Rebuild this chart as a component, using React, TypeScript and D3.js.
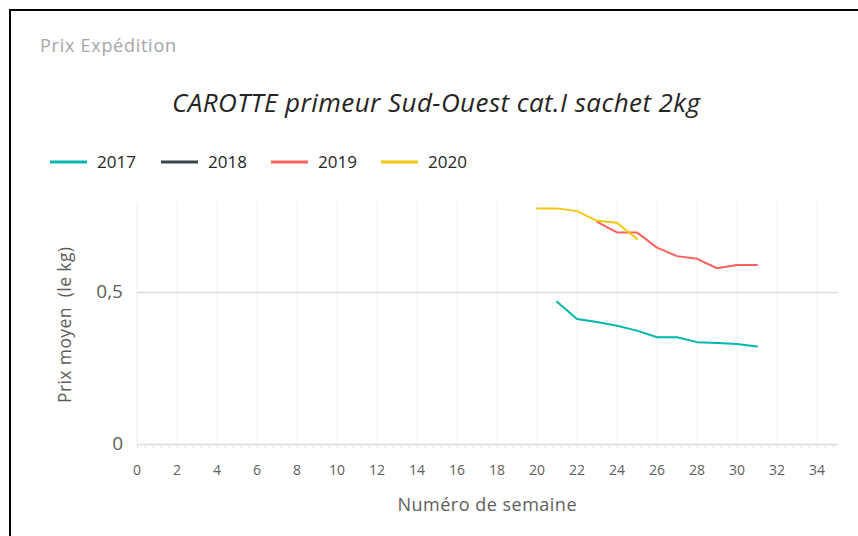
import * as d3 from "d3";
import { useRef, useEffect } from "react";

const years = ["2017", "2018", "2019", "2020"];
const colors = ["#01B8AA", "#374649", "#FD625E", "#F2C80F"];

const weeks2017 = [21, 22, 23, 24, 25, 26, 27, 28, 29, 30, 31];
const prix2017 = [0.468, 0.411, 0.401, 0.389, 0.373, 0.351, 0.351, 0.335, 0.332, 0.329, 0.321];

const weeks2019 = [23, 24, 25, 26, 27, 28, 29, 30, 31];
const prix2019 = [0.731, 0.696, 0.696, 0.646, 0.618, 0.609, 0.578, 0.589, 0.589];

const weeks2020 = [20, 21, 22, 23, 24, 25];
const prix2020 = [0.775, 0.775, 0.766, 0.734, 0.728, 0.674];

const xTicks = d3.range(0, 35, 2);
const yTicks = [0, 0.5];

const font = "'Open Sans', 'Noto Sans', sans-serif";

const App = () => {
  const container = useRef<SVGSVGElement | null>(null);

  useEffect(() => {
    drawChart();
  });

  const drawChart = () => {
    const svg = d3.select(container.current);
    svg.selectAll("*").remove();

    const m = { l: 137, r: 837, t: 202, b: 444 };

    const xScale = d3.scaleLinear().domain([0, 35]).range([m.l, m.r]);
    const yScale = d3.scaleLinear().domain([0, 0.796]).range([m.b, m.t]);

    // frame
    svg
      .append("path")
      .attr("d", "M10,540 L10,10 L860,10")
      .attr("fill", "none")
      .attr("stroke", "#000")
      .attr("stroke-width", 2);

    svg
      .append("text")
      .attr("x", 40)
      .attr("y", 52)
      .attr("textLength", 136)
      .text("Prix Expédition")
      .style("font-family", font)
      .style("font-size", "18px")
      .style("fill", "#a6a6a6");

    svg
      .append("text")
      .attr("x", 172)
      .attr("y", 112)
      .attr("textLength", 528)
      .text("CAROTTE primeur Sud-Ouest cat.I sachet 2kg")
      .style("font-family", font)
      .style("font-style", "italic")
      .style("font-size", "26px")
      .style("fill", "#252423");

    // legend
    const legendX = [50, 161, 271, 381];
    const legend = svg
      .selectAll(".legend")
      .data(years)
      .join("g")
      .attr("class", "legend")
      .attr("transform", (d, i) => `translate(${legendX[i]},162)`);
    legend
      .append("line")
      .attr("x1", 0)
      .attr("x2", 37)
      .attr("stroke", (d, i) => colors[i])
      .attr("stroke-width", 3);
    legend
      .append("text")
      .attr("x", 47)
      .attr("y", 6)
      .text((d) => d)
      .style("font-family", font)
      .style("font-size", "17px")
      .style("fill", "#252423");

    // gridlines
    svg
      .selectAll(".vgrid")
      .data(xTicks.filter((d) => d > 0))
      .join("line")
      .attr("class", "vgrid")
      .attr("x1", (d) => xScale(d))
      .attr("x2", (d) => xScale(d))
      .attr("y1", m.t)
      .attr("y2", m.b)
      .attr("stroke", "#f0f0f0")
      .attr("stroke-width", 1);

    svg
      .append("line")
      .attr("x1", m.l)
      .attr("x2", m.l)
      .attr("y1", m.t)
      .attr("y2", m.b)
      .attr("stroke", "#ececec");

    svg
      .selectAll(".hgrid")
      .data(yTicks)
      .join("line")
      .attr("class", "hgrid")
      .attr("x1", m.l)
      .attr("x2", m.r + 1)
      .attr("y1", (d) => yScale(d) + 0.5)
      .attr("y2", (d) => yScale(d) + 0.5)
      .attr("stroke", "#dcdcdc")
      .attr("stroke-width", 1.5);

    // minor ticks
    svg
      .selectAll(".minor")
      .data(d3.range(0, 35, 0.4))
      .join("line")
      .attr("class", "minor")
      .attr("x1", (d) => xScale(d) + 0.5)
      .attr("x2", (d) => xScale(d) + 0.5)
      .attr("y1", m.b)
      .attr("y2", m.b + 4)
      .attr("stroke", "#dcdcdc");

    // tick labels
    svg
      .selectAll(".xlab")
      .data(xTicks)
      .join("text")
      .attr("class", "xlab")
      .attr("x", (d) => xScale(d))
      .attr("y", 475)
      .attr("text-anchor", "middle")
      .text((d) => d)
      .style("font-family", font)
      .style("font-size", "14px")
      .style("fill", "#605E5C");

    svg
      .selectAll(".ylab")
      .data(yTicks)
      .join("text")
      .attr("class", "ylab")
      .attr("x", 123)
      .attr("y", (d) => yScale(d) + 6)
      .attr("text-anchor", "end")
      .text((d) => (d === 0 ? "0" : d3.format(".1f")(d).replace(".", ",")))
      .style("font-family", font)
      .style("font-size", "19px")
      .style("fill", "#605E5C");

    svg
      .append("text")
      .attr("transform", "translate(71,325) rotate(-90)")
      .attr("text-anchor", "middle")
      .attr("textLength", 156)
      .text("Prix moyen  (le kg)")
      .style("font-family", font)
      .style("font-size", "17.5px")
      .style("white-space", "pre")
      .style("fill", "#605E5C");

    svg
      .append("text")
      .attr("x", 487)
      .attr("y", 511)
      .attr("text-anchor", "middle")
      .attr("textLength", 179)
      .text("Numéro de semaine")
      .style("font-family", font)
      .style("font-size", "18px")
      .style("fill", "#605E5C");

    // lines
    const series = [
      { weeks: weeks2017, vals: prix2017, color: colors[0] },
      { weeks: weeks2019, vals: prix2019, color: colors[2] },
      { weeks: weeks2020, vals: prix2020, color: colors[3] },
    ];

    const line = d3
      .line<[number, number]>()
      .x((d) => xScale(d[0]))
      .y((d) => yScale(d[1]));

    svg
      .selectAll(".serie")
      .data(series)
      .join("path")
      .attr("class", "serie")
      .attr("d", (s) => line(s.weeks.map((w, i) => [w, s.vals[i]] as [number, number])))
      .attr("fill", "none")
      .attr("stroke", (s) => s.color)
      .attr("stroke-width", 2)
      .attr("stroke-linejoin", "round")
      .attr("stroke-linecap", "round");
  };

  return (
    <svg
      ref={container}
      width={858}
      height={536}
      style={{ position: "absolute", left: 0, top: 0, background: "#fff" }}
    ></svg>
  );
};

export default App;
